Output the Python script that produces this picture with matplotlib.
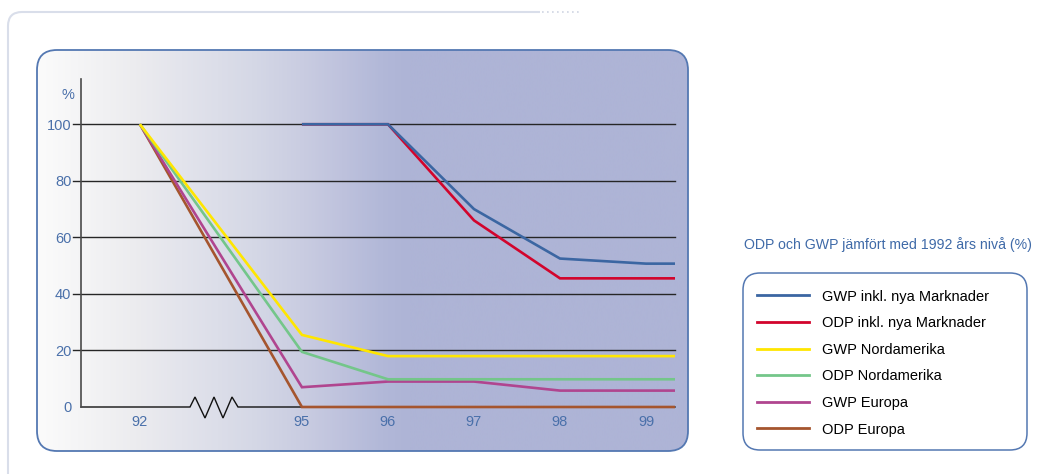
import numpy as np
import matplotlib
matplotlib.use("Agg")
import matplotlib.pyplot as plt
from matplotlib.patches import FancyBboxPatch
from matplotlib.colors import LinearSegmentedColormap
from matplotlib.lines import Line2D
from matplotlib.path import Path
from matplotlib.patches import PathPatch

plt.rcParams['font.family'] = ['Liberation Sans', 'DejaVu Sans']

# ---------------- data ----------------
years = [92, 95, 96, 97, 98, 99]
year_labels = ['92', '95', '96', '97', '98', '99']
nan = np.nan
gwp_nya = [nan, 100, 100, 70, 52.5, 50.7]
odp_nya = [nan, 100, 100, 66, 45.5, 45.5]
gwp_na = [100, 25.5, 18, 18, 18, 18]
odp_na = [100, 19.5, 9.8, 9.8, 9.8, 9.8]
gwp_eu = [100, 7, 9, 9, 5.8, 5.8]
odp_eu = [100, 0, 0, 0, 0, 0]

labels = ['GWP inkl. nya Marknader', 'ODP inkl. nya Marknader', 'GWP Nordamerika',
          'ODP Nordamerika', 'GWP Europa', 'ODP Europa']
series = [gwp_nya, odp_nya, gwp_na, odp_na, gwp_eu, odp_eu]
colors = ['#3b66a2', '#d2042c', '#ffe600', '#74c68a', '#b0458f', '#a5552e']
y_ticks = [0, 20, 40, 60, 80, 100]
title = 'ODP och GWP jämfört med 1992 års nivå (%)'

W, H = 1053, 474
fig = plt.figure(figsize=(W / 100, H / 100), dpi=100)
fig.patch.set_facecolor('white')

# background axes in pixel coordinates
bg = fig.add_axes([0, 0, 1, 1], zorder=0)
bg.set_xlim(0, W)
bg.set_ylim(H, 0)
bg.axis('off')

# outer light frame
verts = [(8, H), (8, 26), (8, 12), (22, 12), (540, 12)]
codes = [Path.MOVETO, Path.LINETO, Path.CURVE3, Path.CURVE3, Path.LINETO]
bg.add_patch(PathPatch(Path(verts, codes), fill=False, edgecolor='#d9deea', lw=1.5))
bg.plot([542, 580], [12, 12], color='#cfd5e3', lw=1.2, ls=(0, (1, 2)))

# panel with gradient
px0, py0, pw, ph = 37, 50, 651, 401
panel = FancyBboxPatch((px0, py0), pw, ph, boxstyle='round,pad=0,rounding_size=20',
                       facecolor='none', edgecolor='#5478b2', lw=1.3, zorder=3)
bg.add_patch(panel)
stops = [(0.0, '#fbfbfb'), (0.06, '#f5f5f6'), (0.15, '#ececef'), (0.22, '#e3e4ec'),
         (0.33, '#d5d8e6'), (0.41, '#c9cce1'), (0.47, '#bec2dd'), (0.53, '#b2b8d8'),
         (0.57, '#aeb4d6'), (1.0, '#aeb4d6')]
cmap = LinearSegmentedColormap.from_list('g', stops)
grad = np.linspace(0, 1, 600)[None, :]
im = bg.imshow(grad, cmap=cmap, aspect='auto', extent=(px0, px0 + pw, py0 + ph, py0),
               zorder=1, interpolation='bicubic')
clip = FancyBboxPatch((px0, py0), pw, ph, boxstyle='round,pad=0,rounding_size=20',
                      transform=bg.transData, facecolor='none', edgecolor='none')
bg.add_patch(clip)
im.set_clip_path(clip)

# legend box
bg.add_patch(FancyBboxPatch((743, 273), 284, 177, boxstyle='round,pad=0,rounding_size=17',
                            facecolor='white', edgecolor='#5478b2', lw=1.1, zorder=2))

# x-axis baseline with break (pixel coordinates)
base_y = 407
zx = [81, 190, 195, 205, 214, 223, 232, 238, 675]
zy = [base_y, base_y, 397, 418, 397, 418, 397, base_y, base_y]
bg.plot(zx, zy, color='#111111', lw=1.0, zorder=4, solid_joinstyle='miter')

# ---------------- main axes ----------------
ax = fig.add_axes([81 / W, (H - 407) / H, 594 / W, 328 / H], zorder=2)
ax.set_facecolor('none')
K = 0.628


def fwd(x):
    x = np.asarray(x, dtype=float)
    return np.where(x < 95, 95 - (95 - x) * K, x)


def inv(u):
    u = np.asarray(u, dtype=float)
    return np.where(u < 95, 95 - (95 - u) / K, u)


ax.set_xscale('function', functions=(fwd, inv))
ax.set_xlim(90.91, 99.337)
ax.set_ylim(0, 116)

for s in ['top', 'right', 'bottom']:
    ax.spines[s].set_visible(False)
ax.spines['left'].set_color('#4a4a4a')
ax.spines['left'].set_linewidth(1.2)

for v in y_ticks[1:]:
    ax.axhline(v, xmin=-8 / 594, xmax=1, color='#262626', lw=1.0, clip_on=False, zorder=1)

ax.set_yticks(y_ticks)
ax.set_yticklabels([str(v) for v in y_ticks])
ax.set_xticks(years)
ax.set_xticklabels(year_labels)
ax.xaxis.set_minor_locator(matplotlib.ticker.NullLocator())
ax.tick_params(axis='y', length=0, pad=7.0, labelsize=10.5, labelcolor='#4a70aa')
ax.tick_params(axis='x', length=0, pad=5.5, labelsize=10.5, labelcolor='#4a70aa')

x_end = ax.get_xlim()[1]
order = [5, 4, 3, 2, 1, 0]
for i in order:
    vals = list(series[i]) + [series[i][-1]]
    xs = list(years) + [x_end]
    ax.plot(xs, vals, color=colors[i], lw=1.9, clip_on=False, zorder=3 + (5 - i),
            solid_joinstyle='miter', solid_capstyle='butt')

fig.text(68 / W, 1 - 95 / H, '%', ha='center', va='center', fontsize=10.5, color='#4a70aa')

# legend
fig.text(888 / W, 1 - 245 / H, title, ha='center', va='center', fontsize=10.2, color='#3f6aa8')
handles = [Line2D([], [], color=colors[i], lw=2.0) for i in range(6)]
leg = fig.legend(handles, labels, loc='upper left', bbox_to_anchor=(757 / W, 1 - 289.5 / H),
                 frameon=False, fontsize=10.5, handlelength=3.57, handletextpad=0.89,
                 labelspacing=0.865, borderpad=0.0, borderaxespad=0.0)
leg.set_zorder(5)

fig.savefig('out.png', dpi=100, facecolor='white')
